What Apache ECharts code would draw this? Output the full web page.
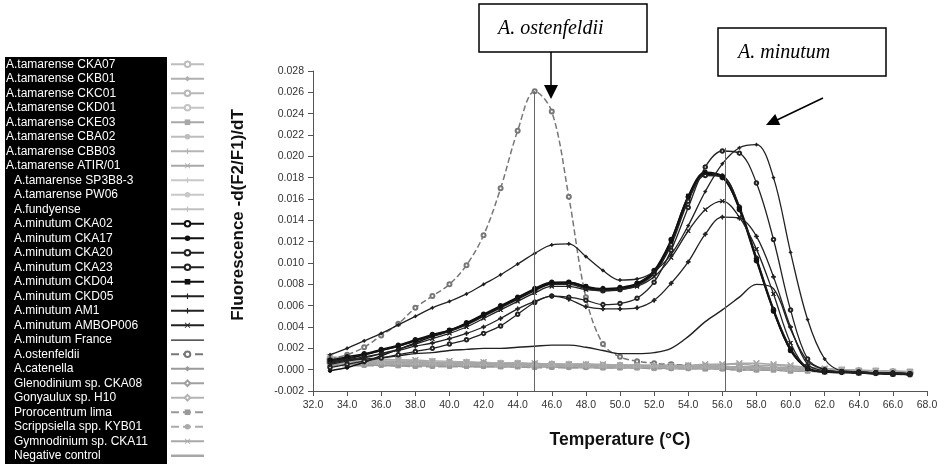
<!DOCTYPE html>
<html><head><meta charset="utf-8">
<script src="https://cdn.jsdelivr.net/npm/echarts@6/dist/echarts.min.js"></script>
<style>html,body{margin:0;padding:0;background:#fff}#c{width:949px;height:464px}</style>
</head><body><div id="c"></div>
<script>
// Temperatures (°C), shared by every series
const temps = [33,34,35,36,37, 38,39,40,41,42, 43,44,45,46,47, 48,49,50,51,52, 53,54,55,56,57, 58,59,60,61,62, 63,64,65,66,67];

// -d(F2/F1)/dT values
const tamCKA07 = [0.0009,0.0008,0.0008,0.0008,0.0007, 0.0007,0.0007,0.0006,0.0006,0.0006, 0.0005,0.0005,0.0005,0.0005,0.0004, 0.0004,0.0004,0.0004,0.0003,0.0003, 0.0003,0.0003,0.0003,0.0002,0.0002, 0.0002,0.0001,0.0001,0.0000,0.0000, -0.0001,-0.0001,-0.0002,-0.0002,-0.0003];
const tamCKB01 = [0.0006,0.0006,0.0006,0.0005,0.0005, 0.0005,0.0005,0.0005,0.0004,0.0004, 0.0004,0.0004,0.0004,0.0003,0.0003, 0.0003,0.0003,0.0003,0.0002,0.0002, 0.0002,0.0002,0.0002,0.0001,0.0001, 0.0001,0.0000,0.0000,-0.0001,-0.0001, -0.0002,-0.0002,-0.0003,-0.0003,-0.0004];
const tamCKC01 = [0.0011,0.0010,0.0010,0.0009,0.0009, 0.0008,0.0008,0.0007,0.0007,0.0006, 0.0006,0.0006,0.0005,0.0005,0.0005, 0.0004,0.0004,0.0004,0.0004,0.0003, 0.0003,0.0003,0.0003,0.0003,0.0002, 0.0002,0.0002,0.0001,0.0001,0.0000, 0.0000,-0.0001,-0.0001,-0.0002,-0.0002];
const tamCKD01 = [0.0007,0.0007,0.0006,0.0006,0.0006, 0.0006,0.0005,0.0005,0.0005,0.0005, 0.0004,0.0004,0.0004,0.0004,0.0004, 0.0003,0.0003,0.0003,0.0003,0.0003, 0.0002,0.0002,0.0002,0.0002,0.0001, 0.0001,0.0001,0.0000,0.0000,-0.0001, -0.0001,-0.0002,-0.0002,-0.0003,-0.0003];
const tamCKE03 = [0.0005,0.0005,0.0005,0.0005,0.0004, 0.0004,0.0004,0.0004,0.0004,0.0004, 0.0003,0.0003,0.0003,0.0003,0.0003, 0.0003,0.0002,0.0002,0.0002,0.0002, 0.0002,0.0002,0.0001,0.0001,0.0001, 0.0000,0.0000,-0.0001,-0.0001,-0.0002, -0.0002,-0.0003,-0.0003,-0.0004,-0.0004];
const tamCBA02 = [0.0008,0.0007,0.0007,0.0007,0.0006, 0.0006,0.0006,0.0006,0.0005,0.0005, 0.0005,0.0005,0.0004,0.0004,0.0004, 0.0004,0.0003,0.0003,0.0003,0.0003, 0.0003,0.0002,0.0002,0.0002,0.0002, 0.0001,0.0001,0.0000,0.0000,-0.0001, -0.0001,-0.0002,-0.0002,-0.0002,-0.0003];
const tamCBB03 = [0.0010,0.0009,0.0009,0.0008,0.0008, 0.0008,0.0007,0.0007,0.0007,0.0006, 0.0006,0.0006,0.0005,0.0005,0.0005, 0.0005,0.0004,0.0004,0.0004,0.0004, 0.0004,0.0003,0.0003,0.0003,0.0002, 0.0002,0.0001,0.0001,0.0000,0.0000, -0.0001,-0.0001,-0.0002,-0.0002,-0.0003];
const tamATIR01 = [0.0012,0.0011,0.0010,0.0010,0.0009, 0.0009,0.0008,0.0008,0.0007,0.0007, 0.0006,0.0006,0.0006,0.0005,0.0005, 0.0005,0.0005,0.0004,0.0004,0.0004, 0.0004,0.0004,0.0005,0.0005,0.0006, 0.0006,0.0005,0.0004,0.0002,0.0001, 0.0000,-0.0001,-0.0001,-0.0002,-0.0002];
const tamSP3B8 = [0.0006,0.0006,0.0005,0.0005,0.0005, 0.0005,0.0004,0.0004,0.0004,0.0004, 0.0004,0.0003,0.0003,0.0003,0.0003, 0.0003,0.0003,0.0002,0.0002,0.0002, 0.0002,0.0002,0.0002,0.0001,0.0001, 0.0001,0.0000,0.0000,-0.0001,-0.0001, -0.0002,-0.0002,-0.0003,-0.0003,-0.0004];
const tamPW06 = [0.0009,0.0009,0.0008,0.0008,0.0008, 0.0007,0.0007,0.0007,0.0006,0.0006, 0.0006,0.0005,0.0005,0.0005,0.0005, 0.0004,0.0004,0.0004,0.0004,0.0003, 0.0003,0.0003,0.0003,0.0002,0.0002, 0.0002,0.0001,0.0001,0.0000,0.0000, -0.0001,-0.0001,-0.0002,-0.0003,-0.0003];
const fundyense = [0.0007,0.0007,0.0007,0.0006,0.0006, 0.0006,0.0006,0.0005,0.0005,0.0005, 0.0005,0.0004,0.0004,0.0004,0.0004, 0.0004,0.0003,0.0003,0.0003,0.0003, 0.0003,0.0002,0.0002,0.0002,0.0002, 0.0001,0.0001,0.0000,0.0000,-0.0001, -0.0001,-0.0002,-0.0002,-0.0003,-0.0003];
const minCKA02 = [0.0009,0.0012,0.0015,0.0019,0.0023, 0.0028,0.0033,0.0037,0.0044,0.0052, 0.0060,0.0068,0.0076,0.0082,0.0082, 0.0078,0.0076,0.0077,0.0081,0.0093, 0.0122,0.0162,0.0183,0.0180,0.0150, 0.0102,0.0055,0.0018,0.0001,-0.0002, -0.0002,-0.0003,-0.0003,-0.0004,-0.0004];
const minCKA17 = [-0.0001,0.0002,0.0007,0.0013,0.0019, 0.0025,0.0031,0.0036,0.0043,0.0051, 0.0059,0.0067,0.0075,0.0081,0.0081, 0.0077,0.0075,0.0076,0.0080,0.0091, 0.0119,0.0160,0.0184,0.0182,0.0153, 0.0105,0.0057,0.0020,0.0002,-0.0002, -0.0003,-0.0003,-0.0004,-0.0004,-0.0005];
const minCKA20 = [0.0007,0.0010,0.0014,0.0018,0.0022, 0.0027,0.0032,0.0036,0.0042,0.0050, 0.0058,0.0066,0.0074,0.0080,0.0080, 0.0076,0.0074,0.0075,0.0079,0.0090, 0.0117,0.0158,0.0182,0.0181,0.0152, 0.0104,0.0056,0.0019,0.0001,-0.0002, -0.0002,-0.0003,-0.0003,-0.0004,-0.0004];
const minCKA23 = [0.0002,0.0005,0.0008,0.0011,0.0014, 0.0017,0.0020,0.0024,0.0028,0.0034, 0.0041,0.0052,0.0063,0.0069,0.0068, 0.0065,0.0061,0.0062,0.0067,0.0082, 0.0112,0.0152,0.0190,0.0205,0.0203, 0.0175,0.0122,0.0056,0.0010,0.0000, -0.0002,-0.0002,-0.0003,-0.0003,-0.0004];
const minCKD04 = [0.0008,0.0011,0.0014,0.0018,0.0022, 0.0027,0.0032,0.0037,0.0043,0.0051, 0.0059,0.0067,0.0075,0.0081,0.0082, 0.0078,0.0075,0.0076,0.0080,0.0092, 0.0121,0.0163,0.0185,0.0181,0.0151, 0.0103,0.0055,0.0018,0.0001,-0.0002, -0.0002,-0.0003,-0.0003,-0.0004,-0.0004];
const minCKD05 = [0.0014,0.0020,0.0027,0.0034,0.0042, 0.0050,0.0058,0.0064,0.0071,0.0080, 0.0089,0.0099,0.0109,0.0117,0.0118, 0.0106,0.0093,0.0084,0.0085,0.0092, 0.0108,0.0135,0.0167,0.0193,0.0208, 0.0211,0.0180,0.0110,0.0047,0.0010, -0.0001,-0.0002,-0.0003,-0.0003,-0.0004];
const minAM1 = [0.0006,0.0009,0.0012,0.0015,0.0018, 0.0022,0.0025,0.0029,0.0034,0.0040, 0.0048,0.0057,0.0064,0.0069,0.0066, 0.0059,0.0057,0.0057,0.0058,0.0065, 0.0081,0.0101,0.0127,0.0143,0.0142, 0.0125,0.0087,0.0040,0.0005,-0.0001, -0.0002,-0.0003,-0.0003,-0.0004,-0.0004];
const minAMBOP006 = [0.0005,0.0008,0.0011,0.0015,0.0019, 0.0024,0.0029,0.0034,0.0040,0.0048, 0.0056,0.0064,0.0072,0.0078,0.0078, 0.0075,0.0074,0.0075,0.0078,0.0087, 0.0105,0.0130,0.0150,0.0158,0.0143, 0.0113,0.0071,0.0025,0.0001,-0.0002, -0.0002,-0.0003,-0.0003,-0.0004,-0.0004];
const minFrance = [0.0008,0.0009,0.0010,0.0011,0.0013, 0.0015,0.0016,0.0018,0.0019,0.0020, 0.0020,0.0021,0.0022,0.0023,0.0023, 0.0021,0.0018,0.0015,0.0015,0.0016, 0.0020,0.0031,0.0045,0.0056,0.0068, 0.0080,0.0076,0.0038,0.0008,0.0000, -0.0002,-0.0002,-0.0003,-0.0003,-0.0004];
const ostenfeldii = [0.0010,0.0014,0.0021,0.0032,0.0043, 0.0058,0.0069,0.0080,0.0098,0.0126, 0.0170,0.0224,0.0261,0.0242,0.0162, 0.0068,0.0024,0.0012,0.0008,0.0006, 0.0005,0.0004,0.0003,0.0003,0.0002, 0.0002,0.0001,0.0001,0.0000,0.0000, -0.0001,-0.0001,-0.0002,-0.0002,-0.0003];
const catenella = [0.0005,0.0005,0.0005,0.0004,0.0004, 0.0004,0.0004,0.0004,0.0003,0.0003, 0.0003,0.0003,0.0003,0.0003,0.0002, 0.0002,0.0002,0.0002,0.0002,0.0002, 0.0001,0.0001,0.0001,0.0001,0.0000, 0.0000,0.0000,-0.0001,-0.0001,-0.0002, -0.0002,-0.0003,-0.0003,-0.0004,-0.0004];
const glenodinium = [0.0008,0.0008,0.0007,0.0007,0.0007, 0.0007,0.0006,0.0006,0.0006,0.0006, 0.0005,0.0005,0.0005,0.0005,0.0004, 0.0004,0.0004,0.0004,0.0004,0.0003, 0.0003,0.0003,0.0003,0.0003,0.0002, 0.0002,0.0001,0.0001,0.0000,0.0000, -0.0001,-0.0001,-0.0002,-0.0002,-0.0003];
const gonyaulux = [0.0006,0.0006,0.0006,0.0006,0.0005, 0.0005,0.0005,0.0005,0.0005,0.0004, 0.0004,0.0004,0.0004,0.0004,0.0003, 0.0003,0.0003,0.0003,0.0003,0.0003, 0.0002,0.0002,0.0002,0.0002,0.0001, 0.0001,0.0001,0.0000,0.0000,-0.0001, -0.0001,-0.0002,-0.0002,-0.0003,-0.0004];
const prorocentrum = [0.0004,0.0004,0.0004,0.0004,0.0004, 0.0003,0.0003,0.0003,0.0003,0.0003, 0.0003,0.0003,0.0002,0.0002,0.0002, 0.0002,0.0002,0.0002,0.0002,0.0001, 0.0001,0.0001,0.0001,0.0001,0.0000, 0.0000,0.0000,-0.0001,-0.0001,-0.0002, -0.0002,-0.0003,-0.0003,-0.0004,-0.0005];
const scrippsiella = [0.0007,0.0006,0.0006,0.0006,0.0006, 0.0005,0.0005,0.0005,0.0005,0.0005, 0.0004,0.0004,0.0004,0.0004,0.0004, 0.0003,0.0003,0.0003,0.0003,0.0003, 0.0002,0.0002,0.0002,0.0002,0.0002, 0.0001,0.0001,0.0000,0.0000,-0.0001, -0.0001,-0.0002,-0.0002,-0.0003,-0.0003];
const gymnodinium = [0.0010,0.0009,0.0009,0.0008,0.0008, 0.0008,0.0007,0.0007,0.0007,0.0006, 0.0006,0.0006,0.0005,0.0005,0.0005, 0.0005,0.0004,0.0004,0.0004,0.0004, 0.0004,0.0004,0.0004,0.0005,0.0005, 0.0004,0.0004,0.0003,0.0002,0.0001, 0.0000,-0.0001,-0.0001,-0.0002,-0.0002];
const negControl = [0.0007,0.0007,0.0007,0.0006,0.0006, 0.0006,0.0006,0.0005,0.0005,0.0005, 0.0005,0.0005,0.0004,0.0004,0.0004, 0.0004,0.0004,0.0003,0.0003,0.0003, 0.0003,0.0003,0.0002,0.0002,0.0002, 0.0002,0.0001,0.0001,0.0000,0.0000, -0.0001,-0.0001,-0.0002,-0.0002,-0.0003];

// Legend names (in legend order)
const names = ['A.tamarense CKA07','A.tamarense CKB01','A.tamarense CKC01','A.tamarense CKD01','A.tamarense CKE03','A.tamarense CBA02','A.tamarense CBB03','A.tamarense ATIR/01','A.tamarense SP3B8-3','A.tamarense PW06','A.fundyense','A.minutum CKA02','A.minutum CKA17','A.minutum CKA20','A.minutum CKA23','A.minutum CKD04','A.minutum CKD05','A.minutum AM1','A.minutum AMBOP006','A.minutum France','A.ostenfeldii','A.catenella','Glenodinium sp. CKA08','Gonyaulux sp. H10','Prorocentrum lima','Scrippsiella spp. KYB01','Gymnodinium sp. CKA11','Negative control'];
const values = [tamCKA07,tamCKB01,tamCKC01,tamCKD01,tamCKE03,tamCBA02,tamCBB03,tamATIR01,tamSP3B8,tamPW06,fundyense,minCKA02,minCKA17,minCKA20,minCKA23,minCKD04,minCKD05,minAM1,minAMBOP006,minFrance,ostenfeldii,catenella,glenodinium,gonyaulux,prorocentrum,scrippsiella,gymnodinium,negControl];

const PLUS = 'path://M4,0L6,0L6,4L10,4L10,6L6,6L6,10L4,10L4,6L0,6L0,4L4,4Z';
const CROSS = 'path://M1,0L5,4L9,0L10,1L6,5L10,9L9,10L5,6L1,10L0,9L4,5L0,1Z';
const BAR_THIN = 'path://M0,0L0.01,0L0.01,0.01Z M0,3.2L33,3.2L33,4.4L0,4.4Z M0,7L0.01,7L0.01,7.01Z';
const BAR_THICK = 'path://M0,0L0.01,0L0.01,0.01Z M0,2.2L33,2.2L33,4.8L0,4.8Z M0,7L0.01,7L0.01,7.01Z';
// colour, symbol, symbolSize, lineWidth, lineType
const looks = [
 ['#bdbdbd','emptyCircle',5,2,'solid'],['#b0b0b0','diamond',5,2,'solid'],['#b8b8b8','emptyCircle',5,2,'solid'],['#c4c4c4','emptyCircle',5,2,'solid'],
 ['#a8a8a8','rect',5,2,'solid'],['#bdbdbd','circle',4,2,'solid'],['#b5b5b5',PLUS,6,2,'solid'],['#a8a8a8',CROSS,6,1.5,'solid'],
 ['#c8c8c8',PLUS,5,2,'solid'],['#c8c8c8','circle',3,2,'solid'],['#c0c0c0',PLUS,5,2,'solid'],
 ['#111','emptyCircle',3.5,1.5,'solid'],['#111','circle',3.5,1.5,'solid'],['#222','emptyCircle',3.5,1.5,'solid'],['#222','emptyCircle',3.5,1.3,'solid'],
 ['#111','rect',3.5,1.5,'solid'],['#222',PLUS,3,1.3,'solid'],['#222',PLUS,4,1.3,'solid'],['#222',CROSS,4,1.3,'solid'],['#222','none',0,1.4,'solid'],
 ['#777','emptyCircle',4,1.5,'dashed'],['#9a9a9a','diamond',5,2,'solid'],['#a0a0a0','emptyDiamond',5,2,'solid'],['#b4b4b4','emptyDiamond',5,2,'solid'],
 ['#999','rect',4,2,'dashed'],['#aaa','circle',3,2,'dashed'],['#a8a8a8',CROSS,5,1.5,'solid'],['#a6a6a6','none',0,3,'solid']
];

const FONT = '"Liberation Sans", Arial, sans-serif';
const chart = echarts.init(document.getElementById('c'), null, {renderer:'canvas'});

const series = names.map((n, i) => {
  const lk = looks[i];
  const s = {
    name: n, type: 'line', smooth: 0.35, animation: false,
    data: temps.map((t, k) => [t, values[i][k]]),
    symbol: lk[1], symbolSize: lk[2], showSymbol: lk[1] !== 'none',
    lineStyle: {color: lk[0], width: lk[3], type: lk[4]},
    itemStyle: {color: lk[0], borderColor: lk[0]},
    emphasis: {disabled: true},
    z: i >= 11 && i <= 19 ? 3 : 2
  };
  if (n === 'A.ostenfeldii') {
    s.markLine = {silent: true, symbol: 'none', label: {show: false},
      lineStyle: {color: '#666', width: 1, type: 'solid'},
      data: [[{coord: [45, 0.0261]}, {coord: [45, -0.002]}], [{coord: [56.2, 0.0208]}, {coord: [56.2, -0.002]}]]};
  }
  return s;
});

const legendData = names.map((n, i) => {
  const d = {name: n};
  if (n === 'A.minutum France') d.icon = BAR_THIN;
  if (n === 'Negative control') d.icon = BAR_THICK;
  return d;
});

chart.setOption({
  animation: false,
  backgroundColor: '#fff',
  grid: {left: 313, right: 22, top: 71, bottom: 73},
  xAxis: {
    type: 'value', min: 32, max: 68, interval: 2,
    name: 'Temperature (°C)', nameLocation: 'middle', nameGap: 40,
    nameTextStyle: {fontFamily: FONT, fontSize: 17.5, fontWeight: 'bold', color: '#111'},
    axisLine: {onZero: false, lineStyle: {color: '#555'}},
    axisTick: {length: 5, lineStyle: {color: '#555'}},
    axisLabel: {color: '#333', fontSize: 10.5, fontFamily: FONT, margin: 9, formatter: v => v.toFixed(1)},
    splitLine: {show: false}
  },
  yAxis: {
    type: 'value', min: -0.002, max: 0.028, interval: 0.002,
    name: 'Fluorescence -d(F2/F1)/dT', nameLocation: 'middle', nameGap: 66,
    nameTextStyle: {fontFamily: FONT, fontSize: 17, fontWeight: 'bold', color: '#111', padding: [0, 0, 0, 32]},
    axisLine: {show: true, lineStyle: {color: '#555'}},
    axisTick: {show: true, length: 5, lineStyle: {color: '#555'}},
    axisLabel: {color: '#333', fontSize: 10.5, fontFamily: FONT, margin: 9, formatter: v => v.toFixed(3)},
    splitLine: {show: false}
  },
  legend: {
    orient: 'vertical', left: 6, top: 57, align: 'right', padding: 0,
    itemWidth: 33, itemHeight: 7, itemGap: 0, selectedMode: false,
    formatter: name => (names.indexOf(name) >= 8 ? '{b|' : '{a|') + name + '}',
    textStyle: {color: '#fff', fontSize: 12, fontFamily: FONT, lineHeight: 14.5,
      rich: {
        a: {width: 160, align: 'left', color: '#fff', fontSize: 12, fontFamily: FONT, lineHeight: 14.5},
        b: {width: 152, align: 'left', padding: [0, 0, 0, 8], color: '#fff', fontSize: 12, fontFamily: FONT, lineHeight: 14.5}
      }},
    data: legendData
  },
  graphic: [
    {type: 'rect', z: 0, shape: {x: 5, y: 57, width: 162, height: 407}, style: {fill: '#000'}},
    {type: 'rect', shape: {x: 479, y: 4, width: 168, height: 48}, style: {fill: '#fff', stroke: '#000', lineWidth: 1.5}},
    {type: 'text', x: 498, y: 29, style: {text: 'A. ostenfeldii', fill: '#000', font: 'italic 20px "Liberation Serif", "Times New Roman", serif', verticalAlign: 'middle'}},
    {type: 'line', shape: {x1: 551, y1: 52, x2: 551, y2: 86}, style: {stroke: '#000', lineWidth: 1.5}},
    {type: 'polygon', shape: {points: [[544, 85], [558, 85], [551, 99]]}, style: {fill: '#000'}},
    {type: 'rect', shape: {x: 718, y: 28, width: 168, height: 48}, style: {fill: '#fff', stroke: '#000', lineWidth: 1.5}},
    {type: 'text', x: 738, y: 53, style: {text: 'A. minutum', fill: '#000', font: 'italic 20px "Liberation Serif", "Times New Roman", serif', verticalAlign: 'middle'}},
    {type: 'line', shape: {x1: 823, y1: 98, x2: 777, y2: 120}, style: {stroke: '#000', lineWidth: 1.5}},
    {type: 'polygon', shape: {points: [[766, 125], [780.3, 124.9], [775.2, 114]]}, style: {fill: '#000'}}
  ],
  series: series
});
</script></body></html>
